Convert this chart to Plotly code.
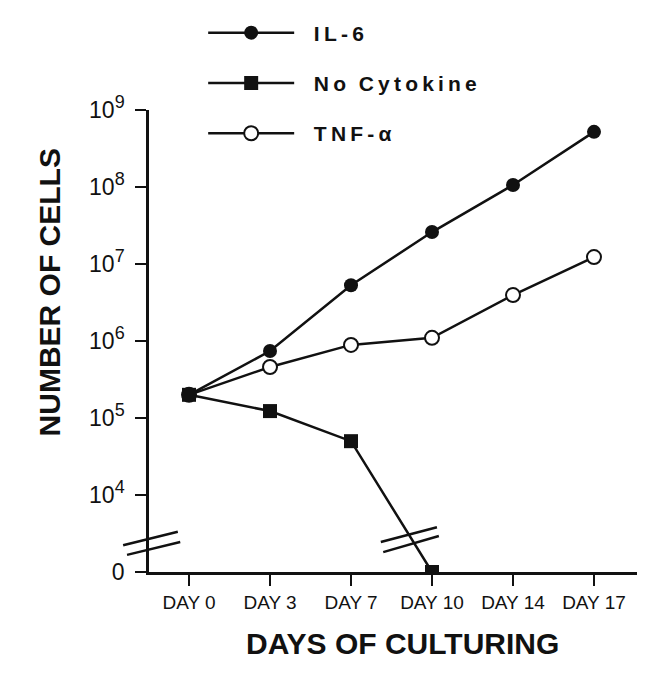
import plotly.graph_objects as go

# ---- data ----
days = ["DAY 0", "DAY 3", "DAY 7", "DAY 10", "DAY 14", "DAY 17"]
il6 = [2.0e5, 7.4e5, 5.3e6, 2.6e7, 1.06e8, 5.2e8]
tnf = [2.0e5, 4.6e5, 8.9e5, 1.1e6, 3.95e6, 1.23e7]
no_cyt = [2.0e5, 1.23e5, 5.0e4, 0]
y_tickvals = [1e3, 1e4, 1e5, 1e6, 1e7, 1e8, 1e9]
y_exponents = [None, 4, 5, 6, 7, 8, 9]

ZERO_AT = 1e3  # broken axis: "0" is drawn one decade below 10^4


def on_axis(vals):
    return [ZERO_AT if v == 0 else v for v in vals]


def tick_label(e):
    if e is None:
        return "0"
    return "10<sup><span style='font-size:18px'>%d</span></sup>" % e


y_ticktext = [tick_label(e) for e in y_exponents]

FONT = "Liberation Sans, Arial, Helvetica, sans-serif"
BLACK = "#111111"
sp = "\u2009"
lead = "\u2002\u2009"

fig = go.Figure()
fig.add_trace(go.Scatter(
    x=days, y=il6, mode="lines+markers", name=lead + sp.join("IL-6"),
    legendrank=1, legendgroup="a",
    line=dict(color=BLACK, width=2.5),
    marker=dict(symbol="circle", size=14, color=BLACK)))
fig.add_trace(go.Scatter(
    x=days, y=tnf, mode="lines+markers", name=lead + sp.join("TNF-α"),
    legendrank=3, legendgroup="c",
    line=dict(color=BLACK, width=2.5),
    marker=dict(symbol="circle", size=14, color="white",
                line=dict(color=BLACK, width=2))))
fig.add_trace(go.Scatter(
    x=days[:len(no_cyt)], y=on_axis(no_cyt), mode="lines+markers",
    name=lead + sp.join("No") + sp * 3 + sp.join("Cytokine"),
    legendrank=2, legendgroup="b",
    line=dict(color=BLACK, width=2.5),
    marker=dict(symbol="square", size=14, color=BLACK)))

# break marks
def brk(x0, y0, x1, y1):
    fig.add_shape(type="line", xref="paper", yref="paper",
                  x0=x0, y0=y0, x1=x1, y1=y1,
                  line=dict(color=BLACK, width=2.5))

brk(-0.053, 0.058, 0.059, 0.087)
brk(-0.045, 0.037, 0.064, 0.065)
brk(0.475, 0.065, 0.590, 0.097)
brk(0.480, 0.043, 0.594, 0.078)

fig.add_annotation(text="<b>NUMBER OF CELLS</b>", xref="paper", yref="paper",
                   x=-0.242, y=0.606, textangle=-90, showarrow=False,
                   font=dict(family=FONT, size=30, color=BLACK))
fig.add_annotation(text="<b>DAYS OF CULTURING</b>", xref="paper", yref="paper",
                   x=0.520, y=-0.195, showarrow=False,
                   font=dict(family=FONT, size=30, color=BLACK))

fig.update_layout(
    width=650, height=686,
    margin=dict(l=141, r=21, t=102, b=122, autoexpand=False),
    paper_bgcolor="white", plot_bgcolor="white",
    font=dict(family=FONT, color=BLACK),
    showlegend=True,
    legend=dict(x=0.111, y=1.211, xanchor="left", yanchor="top",
                itemwidth=86, tracegroupgap=20, traceorder="grouped",
                font=dict(family=FONT, size=21, color=BLACK, weight="bold"),
                bgcolor="rgba(0,0,0,0)", itemclick=False),
    xaxis=dict(type="category", range=[-0.494, 5.531],
               showline=True, linecolor=BLACK, linewidth=2.5,
               ticks="outside", ticklen=11, tickwidth=2, tickcolor=BLACK,
               showgrid=False, zeroline=False,
               tickfont=dict(family=FONT, size=19, color=BLACK)),
    yaxis=dict(type="log", range=[3, 9],
               tickvals=y_tickvals, ticktext=y_ticktext,
               showline=True, linecolor=BLACK, linewidth=2.5,
               ticks="outside", ticklen=11, tickwidth=2, tickcolor=BLACK,
               ticklabelstandoff=6,
               showgrid=False, zeroline=False,
               tickfont=dict(family=FONT, size=23, color=BLACK)),
)

fig.write_html("out.html")
